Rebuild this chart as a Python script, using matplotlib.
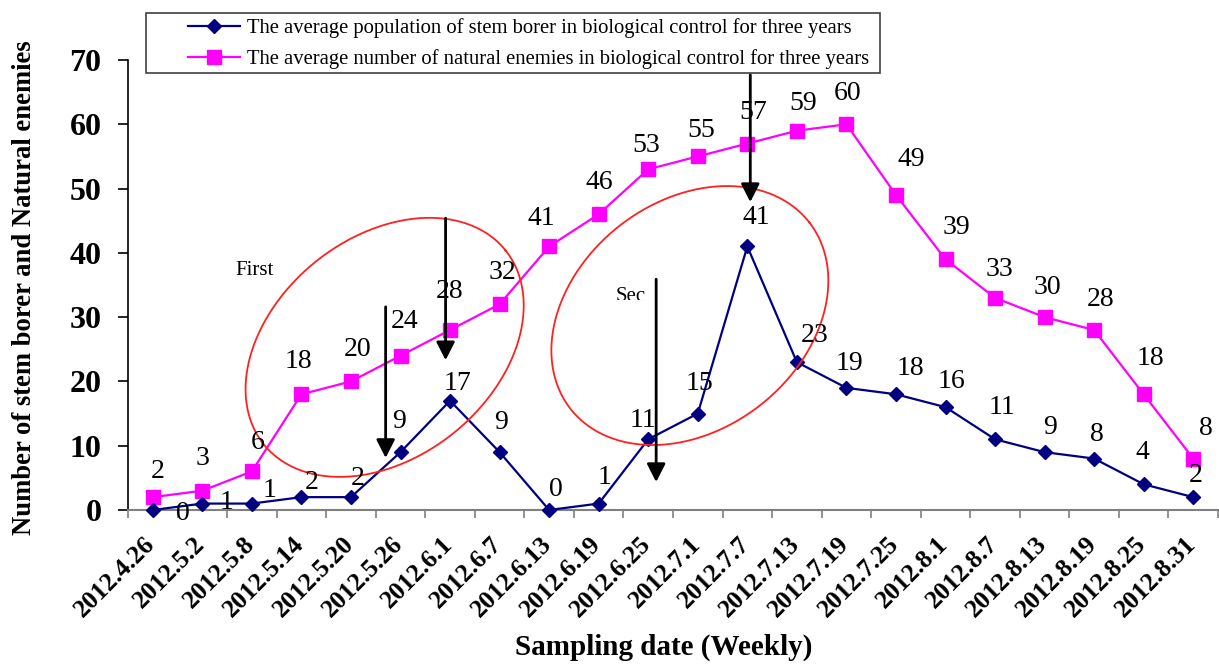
import numpy as np
import matplotlib
matplotlib.use("Agg")
import matplotlib.pyplot as plt
from matplotlib.patches import Rectangle
from matplotlib.lines import Line2D
import matplotlib.transforms as mtransforms

plt.rcParams['font.family'] = ['Liberation Serif', 'DejaVu Serif']

dates = ["2012.4.26", "2012.5.2", "2012.5.8", "2012.5.14", "2012.5.20", "2012.5.26",
         "2012.6.1", "2012.6.7", "2012.6.13", "2012.6.19", "2012.6.25", "2012.7.1",
         "2012.7.7", "2012.7.13", "2012.7.19", "2012.7.25", "2012.8.1", "2012.8.7",
         "2012.8.13", "2012.8.19", "2012.8.25", "2012.8.31"]
stem_borer = [0, 1, 1, 2, 2, 9, 17, 9, 0, 1, 11, 15, 41, 23, 19, 18, 16, 11, 9, 8, 4, 2]
natural_enemies = [2, 3, 6, 18, 20, 24, 28, 32, 41, 46, 53, 55, 57, 59, 60, 49, 39, 33, 30, 28, 18, 8]
y_ticks = [0, 10, 20, 30, 40, 50, 60, 70]

label_stem = "The average population of stem borer in biological control for three years"
label_nat = "The average number of natural enemies in biological control for three years"

# label offsets in pixels (dx, dy)
off_stem = [(30, -3), (24, 1), (18, 13), (10, 15), (7, 19), (-1, 31), (7, 17), (1, 30),
            (7, 21), (6, 26), (-5, 19), (2, 30), (9, 29), (18, 27), (3, 24), (14, 26),
            (6, 26), (7, 32), (5, 25), (3, 24), (-1, 32), (2, 22)]
off_nat = [(5, 26), (0, 32), (6, 29), (-3, 33), (7, 32), (4, 34), (0, 38), (3, 32),
           (-8, 28), (1, 32), (-2, 24), (3, 26), (6, 31), (6, 27), (1, 31), (15, 35),
           (11, 32), (4, 28), (3, 30), (6, 30), (7, 36), (13, 30)]

W, H = 1219, 666
fig = plt.figure(figsize=(W / 100, H / 100), dpi=100)
ax = fig.add_axes([128 / W, 1 - 510 / H, (1218 - 128) / W, (510 - 60) / H])

x = np.arange(len(dates))
ax.plot(x, stem_borer, color='#000080', lw=1.6, marker='D', markersize=7.5, zorder=4, clip_on=False)
ax.plot(x, natural_enemies, color='#FF00FF', lw=1.6, marker='s', markersize=10.5, zorder=3, clip_on=False)

ax.set_xlim(-0.5, len(dates) - 0.5)
ax.set_ylim(0, 70)

for i, v in enumerate(stem_borer):
    ax.annotate(str(v), (x[i], v), xytext=off_stem[i], textcoords='offset pixels',
                ha='center', va='center', fontsize=20, color='black', zorder=6)
for i, v in enumerate(natural_enemies):
    ax.annotate(str(v), (x[i], v), xytext=off_nat[i], textcoords='offset pixels',
                ha='center', va='center', fontsize=20, color='black', zorder=6)

# spines
for s in ['top', 'right']:
    ax.spines[s].set_visible(False)
ax.spines['left'].set_color('black')
ax.spines['left'].set_linewidth(1.2)
ax.spines['bottom'].set_color('#808080')
ax.spines['bottom'].set_linewidth(1.5)

ax.set_yticks(y_ticks)
ax.set_yticklabels([str(t) for t in y_ticks], fontsize=23, fontweight='bold')
ax.tick_params(axis='y', direction='out', length=7, width=1.2, color='black', pad=12)

ax.set_xticks(x)
ax.set_xticklabels(dates, fontsize=18.5, fontweight='bold', rotation=45, ha='right', va='top')
ax.set_xticks(np.arange(-0.5, len(dates), 1.0), minor=True)
ax.tick_params(axis='x', which='major', length=0, pad=16)
ax.tick_params(axis='x', which='minor', length=6, width=1.2, color='#808080', direction='out')
shift = mtransforms.ScaledTranslation(7 / 100, 0, fig.dpi_scale_trans)
for lab in ax.get_xticklabels():
    lab.set_transform(lab.get_transform() + shift)

# ellipses (center in data coords, semi-axes in pixels, angle deg)
ellipses = [((4.68, 25.3), 155, 110, 38.8), ((10.84, 30.25), 151.5, 114, 38.0)]
t = np.linspace(0, 2 * np.pi, 400)
for (cx, cy), a, b, ang in ellipses:
    th = np.deg2rad(ang)
    c = ax.transData.transform((cx, cy))
    px = c[0] + a * np.cos(t) * np.cos(th) - b * np.sin(t) * np.sin(th)
    py = c[1] + a * np.cos(t) * np.sin(th) + b * np.sin(t) * np.cos(th)
    pts = ax.transData.inverted().transform(np.column_stack([px, py]))
    ax.plot(pts[:, 0], pts[:, 1], color='#FF2020', lw=1.3, zorder=5, clip_on=False)

# arrows (x, top, tip) in data coords
arrows = [(4.70, 31.6, 8.1), (5.91, 45.4, 23.3), (10.16, 35.9, 4.35), (12.06, 67.7, 47.9)]
for ax_x, top, tip in arrows:
    ax.annotate('', xy=(ax_x, tip), xytext=(ax_x, top),
                arrowprops=dict(arrowstyle='-|>,head_length=0.55,head_width=0.28', color='black',
                                lw=2, mutation_scale=20, shrinkA=0, shrinkB=0),
                zorder=7, annotation_clip=False)

ax.text(2.06, 37.3, "First", fontsize=15, ha='center', va='center', zorder=6)
sec = ax.text(9.64, 33.2, "Sec", fontsize=15, ha='center', va='center', zorder=6)
sec.set_clip_box(mtransforms.Bbox([[0, H - 300], [W, H]]))
sec.set_clip_on(True)

# axis titles
fig.text(664 / W, 1 - 647 / H, "Sampling date (Weekly)", fontsize=21, fontweight='bold',
         ha='center', va='center')
fig.text(25 / W, 1 - 288 / H, "Number of stem borer and Natural enemies", fontsize=19.2,
         fontweight='bold', rotation=90, ha='center', va='center')

# legend with custom frame
frame = Rectangle((146 / W, 1 - 73 / H), (880 - 146) / W, 60 / H, transform=fig.transFigure,
                  facecolor='white', edgecolor='#404040', lw=1.2, zorder=8)
fig.add_artist(frame)
handles = [Line2D([], [], color='#000080', lw=1.6, marker='D', markersize=7.5),
           Line2D([], [], color='#FF00FF', lw=1.6, marker='s', markersize=10.5)]
leg = fig.legend(handles, [label_stem, label_nat], loc='upper left',
                 bbox_to_anchor=(188 / W, 1 - 18 / H), frameon=False, fontsize=14.9,
                 borderpad=0, borderaxespad=0, handlelength=2.5, handletextpad=0.35,
                 labelspacing=0.55)
leg.set_zorder(9)

fig.savefig("out.png", dpi=100)
